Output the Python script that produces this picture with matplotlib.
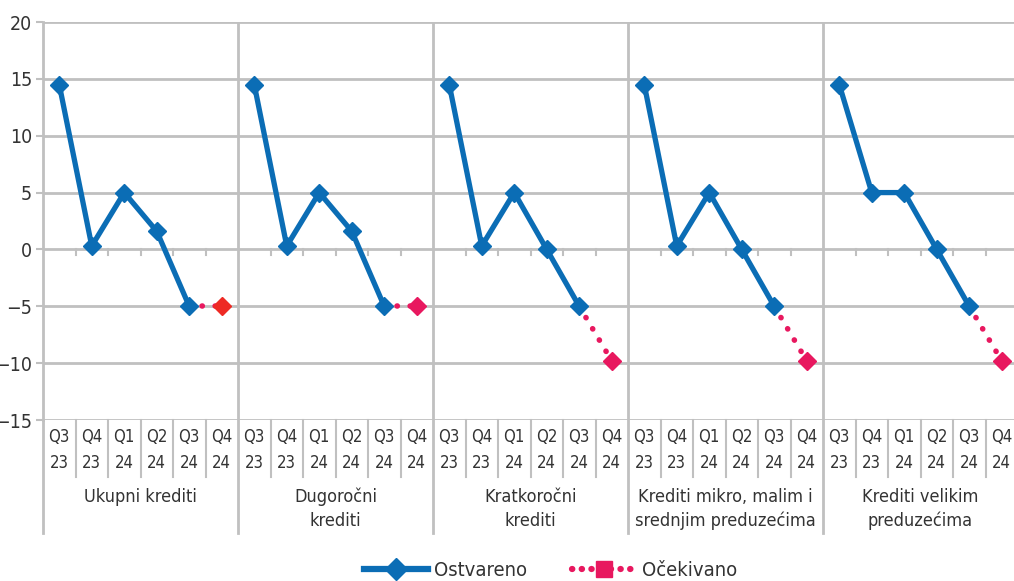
import matplotlib.pyplot as plt
from matplotlib.lines import Line2D

plt.rcParams['font.family'] = ['DejaVu Sans']
plt.rcParams['font.stretch'] = 'condensed'

# Podaci
groups = ["Ukupni krediti", "Dugoročni\nkrediti", "Kratkoročni\nkrediti",
          "Krediti mikro, malim i\nsrednjim preduzećima", "Krediti velikim\npreduzećima"]
quarters = ["Q3\n23", "Q4\n23", "Q1\n24", "Q2\n24", "Q3\n24", "Q4\n24"]

ostvareno = [
    [14.5, 0.3, 5, 1.6, -5],
    [14.5, 0.3, 5, 1.6, -5],
    [14.5, 0.3, 5, 0, -5],
    [14.5, 0.3, 5, 0, -5],
    [14.5, 5, 5, 0, -5],
]
ocekivano = [-5, -5, -9.8, -9.8, -9.8]

BLUE = "#0b6db5"
PINK = "#e8185f"
GRID = "#c0c0c0"
marker_colors = ["#ee2a24", PINK, PINK, PINK, PINK]

fig = plt.figure(figsize=(10.14, 5.81), dpi=100)
W, H = 1014, 581
left, top, bottom = 43, 22, 420
n_cat = len(groups) * len(quarters)
cat_w = 32.5
ax = fig.add_axes([left / W, 1 - bottom / H, n_cat * cat_w / W, (bottom - top) / H])

ax.set_xlim(0, n_cat)
ax.set_ylim(-15, 20)
ax.set_yticks(range(-15, 21, 5))
ax.set_yticklabels([str(v).replace("-", "\u2212") for v in range(-15, 21, 5)])
ax.tick_params(axis='y', length=5, color=GRID, width=1.5, labelsize=14, labelcolor="#333333", pad=3)
ax.set_xticks([])

for s in ['top', 'right', 'bottom']:
    ax.spines[s].set_visible(False)
ax.spines['left'].set_color(GRID)
ax.spines['left'].set_linewidth(2)

# Mreza
for v in range(-15, 21, 5):
    ax.axhline(v, color=GRID, lw=2, zorder=1)
for g in range(1, len(groups) + 1):
    ax.axvline(g * len(quarters), color=GRID, lw=2, zorder=1)

# kratke crtice na nultoj osi
for i in range(1, n_cat):
    if i % len(quarters):
        ax.plot([i, i], [0, -0.45], color=GRID, lw=1.5, zorder=1)

tr = ax.get_xaxis_transform()
ah = bottom - top
for i in range(n_cat + 1):
    if i % len(quarters) == 0:
        ax.plot([i, i], [0, -113 / ah], color=GRID, lw=2, transform=tr, clip_on=False)
    else:
        ax.plot([i, i], [0, -57 / ah], color=GRID, lw=1.5, transform=tr, clip_on=False)

for gi, name in enumerate(groups):
    base = gi * len(quarters)
    for qi, q in enumerate(quarters):
        ax.text(base + qi + 0.5, -30 / ah, q, transform=tr, ha='center', va='center',
                fontsize=12, color="#333333", linespacing=1.5, clip_on=False)
    ax.text(base + len(quarters) / 2, -68 / ah, name, transform=tr, ha='center', va='top',
            fontsize=13, color="#333333", linespacing=1.4, clip_on=False)

    xs = [base + k + 0.5 for k in range(len(ostvareno[gi]))]
    ax.plot(xs, ostvareno[gi], color=BLUE, lw=3.8, marker='D', ms=9.5,
            zorder=4, clip_on=False)
    x_last = base + len(quarters) - 0.5
    ax.plot([xs[-1], x_last], [ostvareno[gi][-1], ocekivano[gi]], color=PINK, lw=4,
            linestyle=(0, (0.05, 2.3)), dash_capstyle='round', zorder=3, clip_on=False)
    ax.plot([x_last], [ocekivano[gi]], linestyle='none', marker='D', ms=9.5,
            color=marker_colors[gi], zorder=5, clip_on=False)

handles = [
    Line2D([], [], color=BLUE, lw=4.5, marker='D', ms=11),
    Line2D([], [], color=PINK, lw=4.5, linestyle=(0, (0.05, 1.5)), dash_capstyle='round',
           marker='s', ms=12),
]
fig.legend(handles, ["Ostvareno", "Očekivano"], loc='center', bbox_to_anchor=(0.543, 1 - 571 / H),
           ncol=2, frameon=False, fontsize=14.5, handlelength=3.2, columnspacing=2.2,
           handletextpad=0.3, labelcolor="#333333")

fig.savefig("out.png", dpi=100)
